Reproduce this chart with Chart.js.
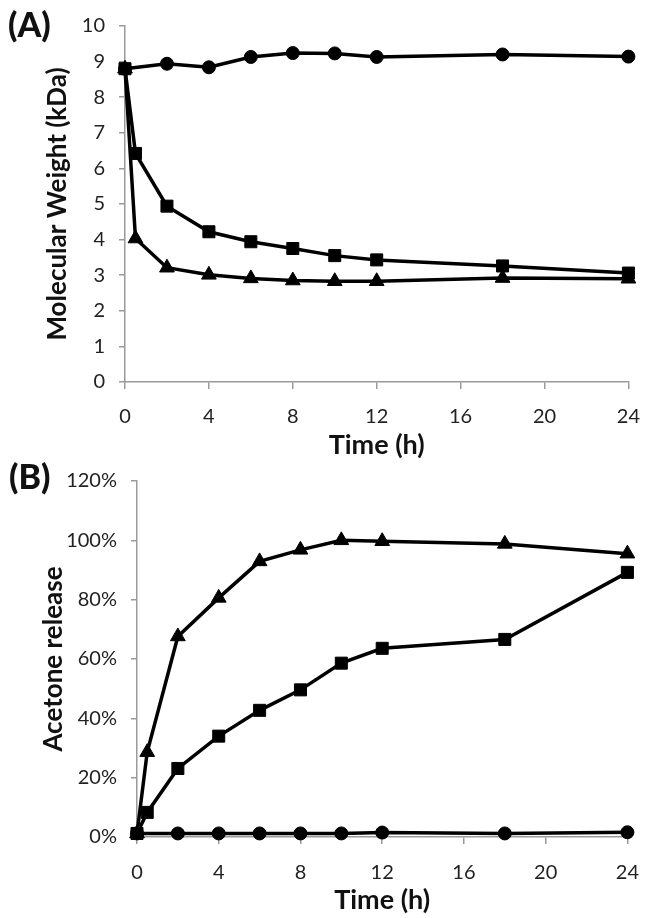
<!DOCTYPE html>
<html>
<head>
<meta charset="utf-8">
<script src="https://cdn.jsdelivr.net/npm/chart.js@4.4.0/dist/chart.umd.min.js"></script>
<style>
  html, body { margin: 0; padding: 0; background: #ffffff; }
  body { width: 656px; height: 918px; position: relative; overflow: hidden; font-family: Lato, "Open Sans", sans-serif; }
  canvas { position: absolute; left: 0; }
  #cA { top: 0; }
  #cB { top: 455px; }
  .panel { position: absolute; font-family: Lato, sans-serif; font-weight: 900; font-size: 34px; color: #111; line-height: 1; }
  #pA { left: 8px; top: 7px; }
  #pB { left: 9px; top: 459px; }
</style>
</head>
<body>
<canvas id="cA" width="656" height="463"></canvas>
<canvas id="cB" width="656" height="463"></canvas>
<div class="panel" id="pA">(A)</div>
<div class="panel" id="pB">(B)</div>
<script>
// ---- Data ----
const timesCircle = [0, 2, 4, 6, 8, 10, 12, 18, 24];
const timesOther  = [0, 0.5, 2, 4, 6, 8, 10, 12, 18, 24];

// Panel A: molecular weight (kDa)
const mwCircle   = [8.80, 8.94, 8.84, 9.13, 9.24, 9.23, 9.13, 9.20, 9.14];
const mwSquare   = [8.80, 6.42, 4.94, 4.22, 3.94, 3.75, 3.55, 3.43, 3.26, 3.06];
const mwTriangle = [8.80, 4.03, 3.21, 3.01, 2.91, 2.85, 2.83, 2.83, 2.92, 2.90];

// Panel B: acetone release (%)
const acCircle   = [1.2, 1.2, 1.2, 1.2, 1.2, 1.2, 1.5, 1.2, 1.6];
const acSquare   = [1.2, 8.3, 23.1, 34.0, 42.7, 49.6, 58.6, 63.6, 66.6, 89.2];
const acTriangle = [1.2, 28.6, 67.6, 80.6, 92.9, 96.8, 100.0, 99.7, 98.8, 95.5];

const xTicks = [0, 4, 8, 12, 16, 20, 24];
const mwTicks = [0, 1, 2, 3, 4, 5, 6, 7, 8, 9, 10];
const acTicks = [0, 20, 40, 60, 80, 100, 120];

function pts(xs, ys) { return xs.map((x, i) => ({ x: x, y: ys[i] })); }

function ds(data, style, r) {
  return {
    data: data,
    borderColor: '#000',
    backgroundColor: '#000',
    borderWidth: 3.5,
    pointStyle: style,
    pointRadius: r,
    pointBackgroundColor: '#000',
    pointBorderColor: '#000',
    pointBorderWidth: 1,
    tension: 0,
    clip: false
  };
}

const FONT = 'Lato, "Open Sans", sans-serif';

function makeChart(id, datasets, yMin, yMax, yFmt, yTitle, xLabPad) {
  return new Chart(document.getElementById(id), {
    type: 'line',
    data: { datasets: datasets },
    options: {
      responsive: false,
      animation: false,
      devicePixelRatio: 1,
      layout: { padding: { left: 0, right: id === 'cA' ? 27 : 13, top: 16, bottom: 0 } },
      plugins: { legend: { display: false }, tooltip: { enabled: false } },
      scales: {
        x: {
          type: 'linear',
          min: 0, max: 24,
          afterBuildTicks: s => { s.ticks = xTicks.map(v => ({ value: v })); },
          afterFit: s => { s.height = 81; },
          grid: { display: true, drawOnChartArea: false, drawTicks: true, tickLength: 7, color: '#9a9a9a', lineWidth: 1.5 },
          border: { display: true, color: '#9a9a9a', width: 1.5 },
          ticks: { color: '#222', font: { family: FONT, size: 20 }, padding: xLabPad, maxRotation: 0 },
          title: { display: true, text: 'Time (h)', color: '#111', font: { family: FONT, size: 27, weight: 'bold' }, padding: { top: 0, bottom: 2 } }
        },
        y: {
          type: 'linear',
          min: yMin, max: yMax,
          afterBuildTicks: s => { s.ticks = (yMax === 10 ? mwTicks : acTicks).map(v => ({ value: v })); },
          afterFit: s => { s.width = (id === 'cA' ? 125 : 137); },
          grid: { display: true, drawOnChartArea: false, drawTicks: true, tickLength: 6, color: '#9a9a9a', lineWidth: 1.5 },
          border: { display: true, color: '#9a9a9a', width: 1.5 },
          ticks: { color: '#222', font: { family: FONT, size: 20 }, padding: 14, callback: yFmt },
          title: { display: true, text: yTitle, color: '#111', font: { family: FONT, size: 26, weight: 'bold' }, padding: { top: id === 'cA' ? 42 : 38, bottom: 0 } }
        }
      }
    }
  });
}

makeChart('cA', [
  ds(pts(timesCircle, mwCircle), 'circle', 6.5),
  ds(pts(timesOther, mwSquare), 'rect', 8.5),
  ds(pts(timesOther, mwTriangle), 'triangle', 8.5)
], 0, 10, v => String(v), 'Molecular Weight (kDa)', 16);

makeChart('cB', [
  ds(pts(timesCircle, acCircle), 'circle', 6.5),
  ds(pts(timesOther, acSquare), 'rect', 8.5),
  ds(pts(timesOther, acTriangle), 'triangle', 8.5)
], 0, 120, v => v + '%', 'Acetone release', 17);
</script>
</body>
</html>
